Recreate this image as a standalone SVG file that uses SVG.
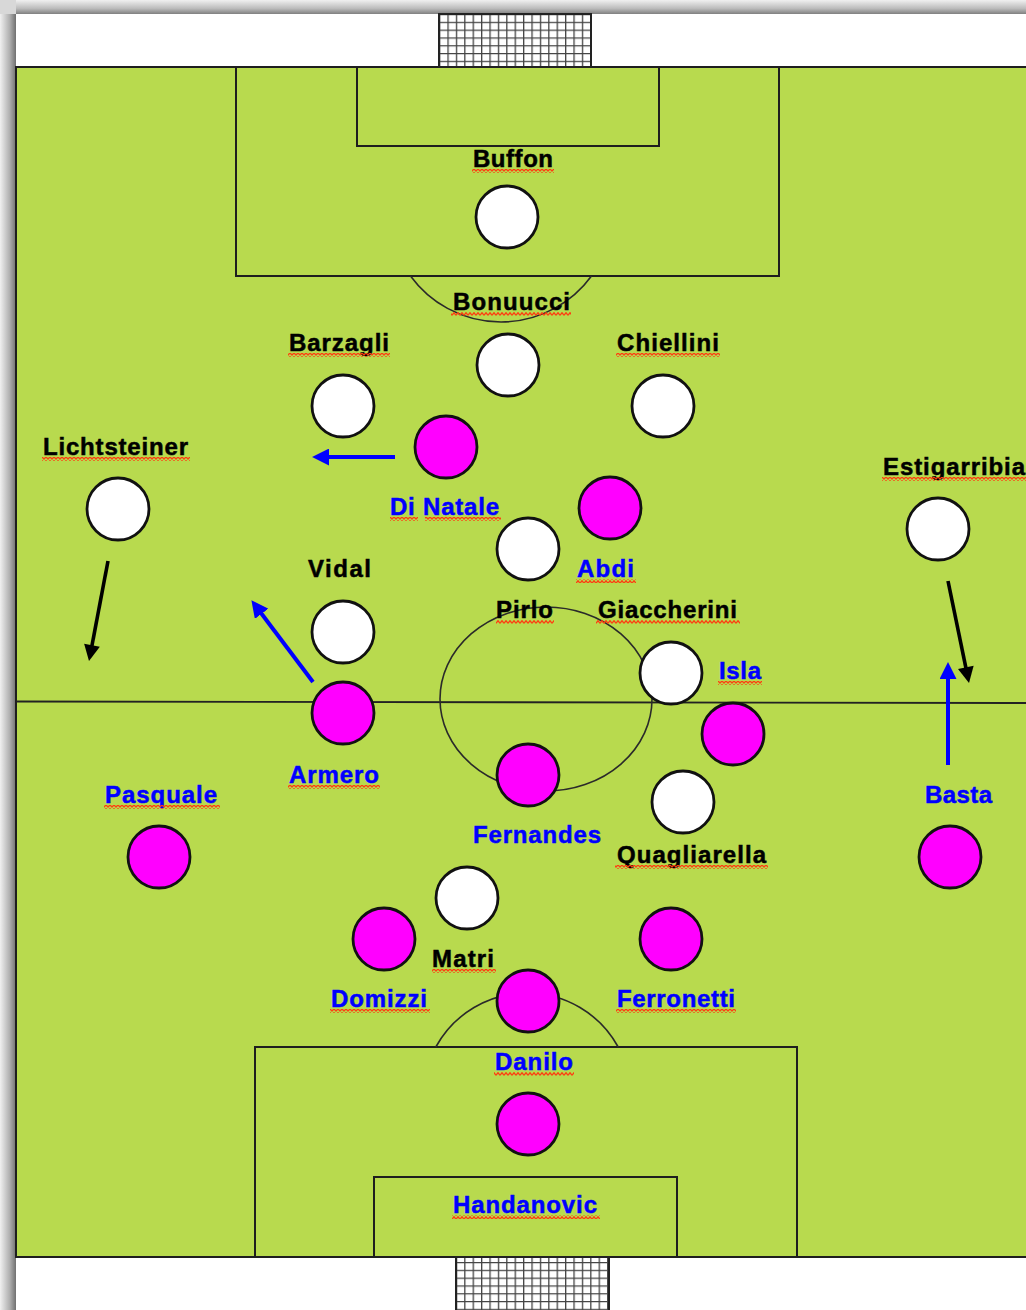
<svg xmlns="http://www.w3.org/2000/svg" width="1026" height="1310" viewBox="0 0 1026 1310">
<defs>
<style>
.mk{fill:none;stroke:#1e1e1e;stroke-width:2}
.arc{fill:none;stroke:#2a2a2a;stroke-width:1.6}
.w{fill:#ffffff;stroke:#111;stroke-width:2.8}
.m{fill:#ff00ff;stroke:#111;stroke-width:2.8}
.t{font-family:"Liberation Sans Narrow","Liberation Sans",Arial,sans-serif;font-weight:bold;font-size:24px;stroke-width:0.5}
.k{fill:#000;stroke:#000}
.b{fill:#0000ff;stroke:#0000ff}
.sq{fill:url(#squig)}
.ab{stroke:#0000ff;stroke-width:4;fill:none}
.ak{stroke:#000;stroke-width:3.6;fill:none}
</style>
<linearGradient id="shL" x1="0" y1="0" x2="1" y2="0">
<stop offset="0" stop-color="#f0f0f0"/><stop offset="0.6" stop-color="#b0b0b0"/><stop offset="1" stop-color="#707070"/>
</linearGradient>
<linearGradient id="shT" x1="0" y1="0" x2="0" y2="1">
<stop offset="0" stop-color="#f0f0f0"/><stop offset="0.6" stop-color="#bcbcbc"/><stop offset="1" stop-color="#808080"/>
</linearGradient>
<pattern id="net" x="439" y="14" width="8.4" height="7.8" patternUnits="userSpaceOnUse">
<rect width="8.4" height="7.8" fill="#ffffff"/>
<path d="M0,0 V7.8 M0,0 H8.4" stroke="#444" stroke-width="2.6"/>
</pattern>
<pattern id="squig" width="4" height="4" patternUnits="userSpaceOnUse">
<path d="M0,3.3 L2,0.7 L4,3.3" fill="none" stroke="#ff3b10" stroke-width="1.3"/>
</pattern>
<marker id="hb" viewBox="0 0 16 16" refX="1" refY="8" markerWidth="17" markerHeight="17" markerUnits="userSpaceOnUse" orient="auto">
<path d="M0,0 L16,8 L0,16 z" fill="#0000ff"/>
</marker>
<marker id="hk" viewBox="0 0 16 16" refX="1" refY="8" markerWidth="17" markerHeight="16" markerUnits="userSpaceOnUse" orient="auto">
<path d="M0,0 L16,8 L0,16 z" fill="#000"/>
</marker>
</defs>

<g id="page">
<rect x="0" y="0" width="1026" height="1310" fill="#ffffff"/>
<rect x="0" y="0" width="16" height="1310" fill="url(#shL)"/>
<rect x="0" y="0" width="1026" height="14" fill="url(#shT)"/>
<rect x="0" y="0" width="16" height="14" fill="#d8d8d8"/>
<rect x="16" y="14" width="1010" height="1296" fill="#ffffff"/>
</g>

<g id="field">
<rect x="16" y="67" width="1014" height="1190" fill="#b8da4e" stroke="#1e1e1e" stroke-width="2"/>
<rect class="mk" x="236" y="67" width="543" height="209"/>
<rect class="mk" x="357" y="67" width="302" height="79"/>
<rect class="mk" x="255" y="1047" width="542" height="210"/>
<rect class="mk" x="374" y="1177" width="303" height="80"/>
<line x1="16" y1="701.5" x2="1026" y2="703" stroke="#222" stroke-width="1.8"/>
<ellipse class="arc" cx="546" cy="699" rx="106" ry="92"/>
<path class="arc" d="M410.5,276 A112,112 0 0 0 591.5,276"/>
<path class="arc" d="M435.8,1047 A104,104 0 0 1 618.2,1047"/>
</g>

<g id="goal-top">
<rect x="439" y="14" width="152" height="53" fill="url(#net)" stroke="#222" stroke-width="2"/>
</g>
<g id="goal-bottom">
<rect x="456" y="1257" width="153" height="56" fill="url(#net)" stroke="#222" stroke-width="2"/>
</g>

<g id="connectors">
<line class="ab" x1="395" y1="457" x2="328" y2="457" marker-end="url(#hb)"/>
<line class="ab" x1="313" y1="682" x2="261" y2="613" marker-end="url(#hb)"/>
<line class="ab" x1="948" y1="765" x2="948" y2="678" marker-end="url(#hb)"/>
<line class="ak" x1="108" y1="561" x2="91.8" y2="646.3" marker-end="url(#hk)"/>
<line class="ak" x1="948" y1="581" x2="966" y2="668.3" marker-end="url(#hk)"/>
</g>

<g id="buffon"><circle class="w" cx="507" cy="217" r="31"/><text class="t k" x="473" y="167" textLength="80" lengthAdjust="spacing">Buffon</text><rect class="sq" x="472" y="169" width="82" height="4"/></g>
<g id="bonuucci"><circle class="w" cx="508" cy="365" r="31"/><text class="t k" x="453" y="310" textLength="117" lengthAdjust="spacing">Bonuucci</text><rect class="sq" x="451" y="312" width="120" height="4"/></g>
<g id="barzagli"><circle class="w" cx="343" cy="406" r="31"/><text class="t k" x="289" y="351" textLength="100" lengthAdjust="spacing">Barzagli</text><rect class="sq" x="288" y="353" width="102" height="4"/></g>
<g id="chiellini"><circle class="w" cx="663" cy="406" r="31"/><text class="t k" x="617" y="351" textLength="102" lengthAdjust="spacing">Chiellini</text><rect class="sq" x="616" y="353" width="104" height="4"/></g>
<g id="lichtsteiner"><circle class="w" cx="118" cy="509" r="31"/><text class="t k" x="43" y="455" textLength="145" lengthAdjust="spacing">Lichtsteiner</text><rect class="sq" x="42" y="457" width="148" height="4"/></g>
<g id="estigarribia"><circle class="w" cx="938" cy="529" r="31"/><text class="t k" x="883" y="475" textLength="142" lengthAdjust="spacing">Estigarribia</text><rect class="sq" x="882" y="477" width="144" height="4"/></g>
<g id="pirlo"><circle class="w" cx="528" cy="549" r="31"/><text class="t k" x="496" y="618" textLength="57" lengthAdjust="spacing">Pirlo</text><rect class="sq" x="496" y="620" width="58" height="4"/></g>
<g id="vidal"><circle class="w" cx="343" cy="632" r="31"/><text class="t k" x="308" y="577" textLength="63" lengthAdjust="spacing">Vidal</text></g>
<g id="giaccherini"><circle class="w" cx="671" cy="673" r="31"/><text class="t k" x="598" y="618" textLength="139" lengthAdjust="spacing">Giaccherini</text><rect class="sq" x="596" y="620" width="144" height="4"/></g>
<g id="quagliarella"><circle class="w" cx="683" cy="802" r="31"/><text class="t k" x="617" y="863" textLength="149" lengthAdjust="spacing">Quagliarella</text><rect class="sq" x="615" y="865" width="153" height="4"/></g>
<g id="matri"><circle class="w" cx="467" cy="898" r="31"/><text class="t k" x="432" y="967" textLength="62" lengthAdjust="spacing">Matri</text><rect class="sq" x="432" y="969" width="64" height="4"/></g>

<g id="di-natale"><circle class="m" cx="446" cy="447" r="31"/><text class="t b" x="390" y="515" textLength="109" lengthAdjust="spacing">Di Natale</text><rect class="sq" x="390" y="517" width="28" height="4"/><rect class="sq" x="425" y="517" width="76" height="4"/></g>
<g id="abdi"><circle class="m" cx="610" cy="508" r="31"/><text class="t b" x="577" y="577" textLength="57" lengthAdjust="spacing">Abdi</text><rect class="sq" x="576" y="579" width="60" height="4"/></g>
<g id="isla"><circle class="m" cx="733" cy="734" r="31"/><text class="t b" x="719" y="679" textLength="42" lengthAdjust="spacing">Isla</text><rect class="sq" x="718" y="681" width="44" height="4"/></g>
<g id="armero"><circle class="m" cx="343" cy="713" r="31"/><text class="t b" x="289" y="783" textLength="90" lengthAdjust="spacing">Armero</text><rect class="sq" x="288" y="785" width="92" height="4"/></g>
<g id="fernandes"><circle class="m" cx="528" cy="775" r="31"/><text class="t b" x="473" y="843" textLength="128" lengthAdjust="spacing">Fernandes</text></g>
<g id="pasquale"><circle class="m" cx="159" cy="857" r="31"/><text class="t b" x="105" y="803" textLength="112" lengthAdjust="spacing">Pasquale</text><rect class="sq" x="104" y="805" width="116" height="4"/></g>
<g id="basta"><circle class="m" cx="950" cy="857" r="31"/><text class="t b" x="925" y="803" textLength="67" lengthAdjust="spacing">Basta</text></g>
<g id="domizzi"><circle class="m" cx="384" cy="939" r="31"/><text class="t b" x="331" y="1007" textLength="96" lengthAdjust="spacing">Domizzi</text><rect class="sq" x="330" y="1009" width="100" height="4"/></g>
<g id="ferronetti"><circle class="m" cx="671" cy="939" r="31"/><text class="t b" x="617" y="1007" textLength="118" lengthAdjust="spacing">Ferronetti</text><rect class="sq" x="616" y="1009" width="120" height="4"/></g>
<g id="danilo"><circle class="m" cx="528" cy="1001" r="31"/><text class="t b" x="495" y="1070" textLength="78" lengthAdjust="spacing">Danilo</text><rect class="sq" x="494" y="1072" width="80" height="4"/></g>
<g id="handanovic"><circle class="m" cx="528" cy="1124" r="31"/><text class="t b" x="453" y="1213" textLength="144" lengthAdjust="spacing">Handanovic</text><rect class="sq" x="452" y="1215" width="148" height="4"/></g>
</svg>
